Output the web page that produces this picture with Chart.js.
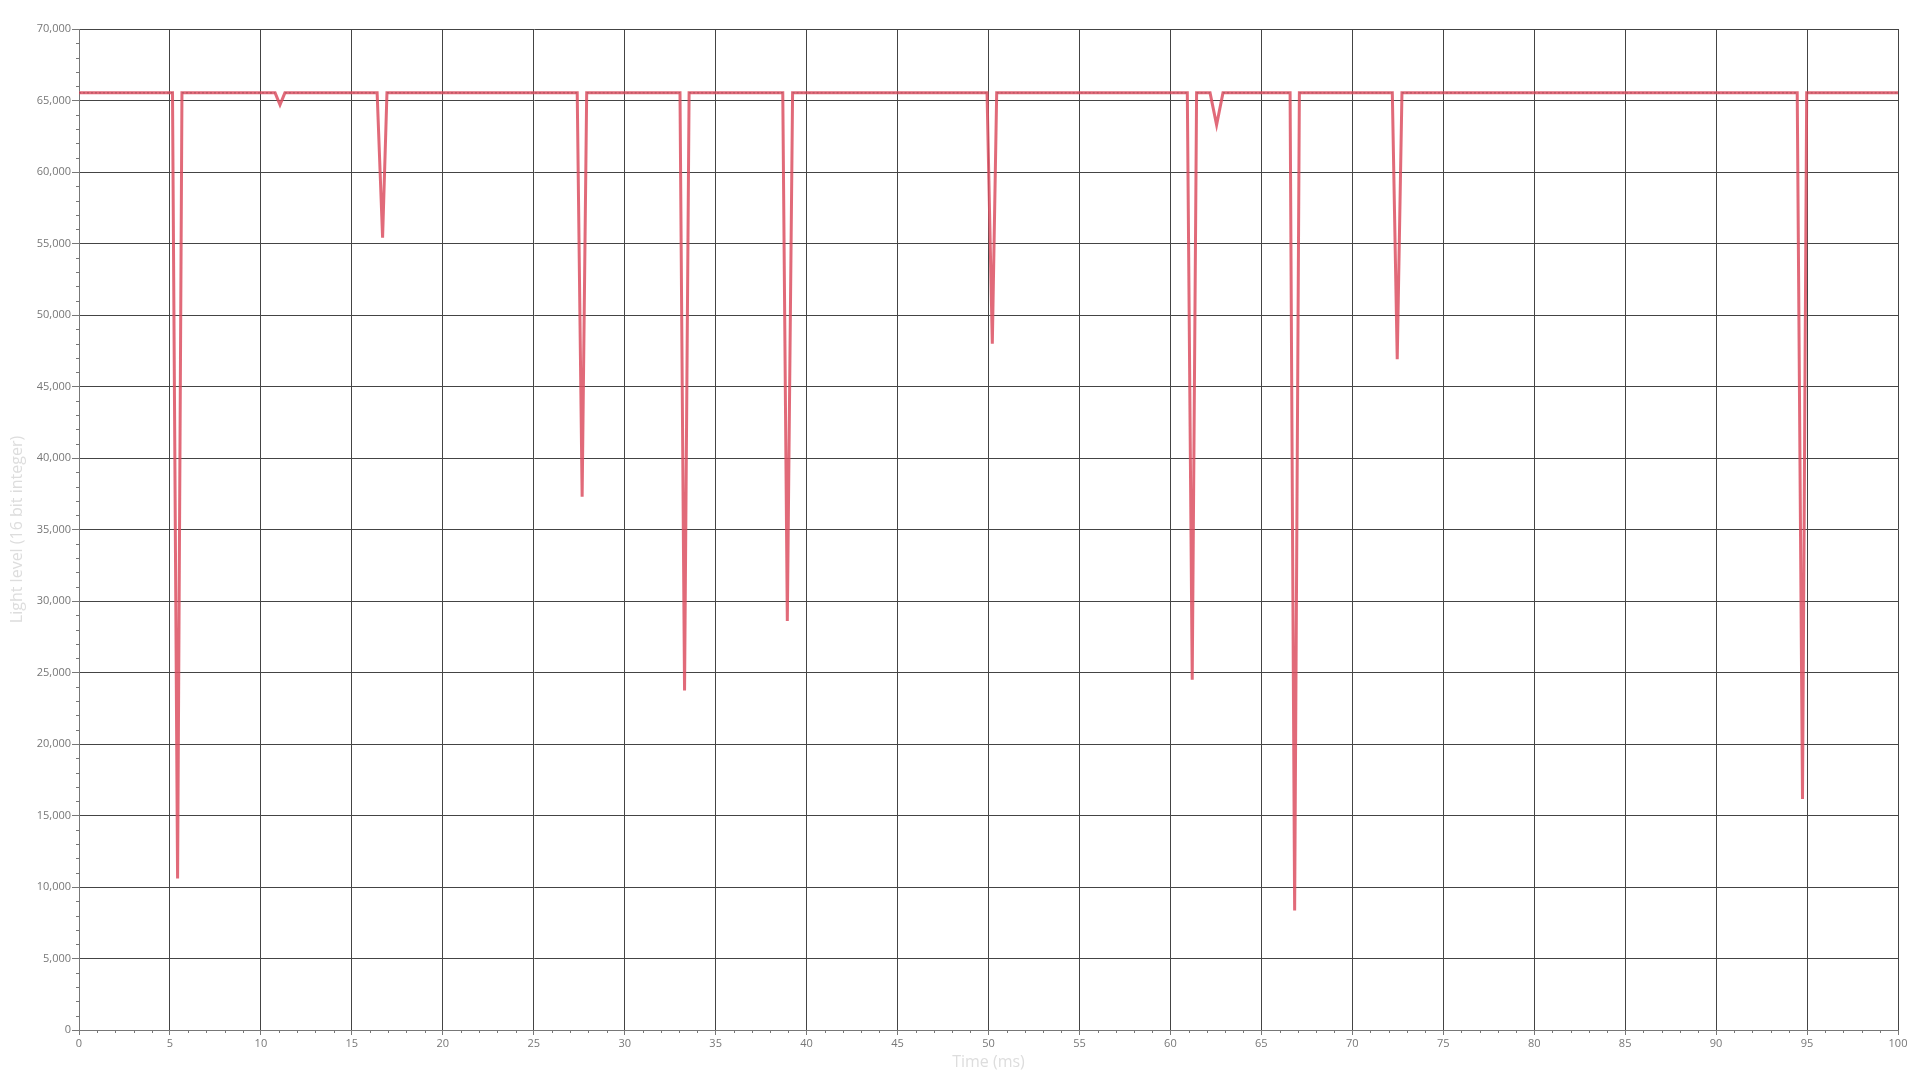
<!DOCTYPE html>
<html>
<head>
<meta charset="utf-8">
<script src="https://cdn.jsdelivr.net/npm/chart.js@4/dist/chart.umd.min.js"></script>
<style>
    body { margin: 0; background: #fff; }
    #chart { display: block; }
</style>
</head>
<body>
<canvas id="chart" width="1920" height="1080"></canvas>
<script>
// time (ms) and light level: flat at 65535 with short dips
const timeMs = [
    0,
    5.14, 5.42, 5.66,
    10.78, 11.05, 11.32,
    16.39, 16.69, 16.93,
    27.39, 27.66, 27.91,
    33.04, 33.29, 33.54,
    38.69, 38.94, 39.23,
    49.92, 50.21, 50.45,
    60.93, 61.2, 61.44,
    62.18, 62.54, 62.89,
    66.58, 66.83, 67.09,
    72.2, 72.47, 72.73,
    94.46, 94.75, 94.98,
    100
];
const lightLevel = [
    65535,
    65535, 10600, 65535,
    65535, 64700, 65535,
    65535, 55400, 65535,
    65535, 37300, 65535,
    65535, 23750, 65535,
    65535, 28600, 65535,
    65535, 48000, 65535,
    65535, 24500, 65535,
    65535, 63300, 65535,
    65535, 8350, 65535,
    65535, 46900, 65535,
    65535, 16150, 65535,
    65535
];

const xMajorTicks = [0, 5, 10, 15, 20, 25, 30, 35, 40, 45, 50, 55, 60, 65, 70, 75, 80, 85, 90, 95, 100];
const yMajorTicks = [0, 5000, 10000, 15000, 20000, 25000, 30000, 35000, 40000, 45000, 50000, 55000, 60000, 65000, 70000];
const xMinorStep = 1;
const yMinorStep = 1000;

const points = timeMs.map((t, i) => ({ x: t, y: lightLevel[i] }));

const tickFont = { family: 'Open Sans', size: 11 };
const titleFont = { family: 'Open Sans', size: 16 };

// small unlabeled ticks between the major ones
const minorTicks = {
    id: 'minorTicks',
    afterDraw(chart) {
        const ctx = chart.ctx;
        const xs = chart.scales.x;
        const ys = chart.scales.y;
        const area = chart.chartArea;
        ctx.save();
        ctx.strokeStyle = '#777';
        ctx.lineWidth = 1;
        ctx.beginPath();
        for (let v = xs.min; v <= xs.max; v += xMinorStep) {
            if (xMajorTicks.includes(v)) continue;
            const px = Math.round(xs.getPixelForValue(v)) + 0.5;
            ctx.moveTo(px, area.bottom);
            ctx.lineTo(px, area.bottom + 3);
        }
        for (let v = ys.min; v <= ys.max; v += yMinorStep) {
            if (yMajorTicks.includes(v)) continue;
            const py = Math.round(ys.getPixelForValue(v)) + 0.5;
            ctx.moveTo(area.left - 3, py);
            ctx.lineTo(area.left, py);
        }
        ctx.stroke();
        ctx.restore();
    }
};

new Chart(document.getElementById('chart'), {
    type: 'line',
    data: {
        datasets: [
            {
                // darker dotted trace seen along the flat parts
                data: points,
                borderColor: 'rgba(130,55,65,0.55)',
                borderWidth: 1,
                borderDash: [2, 2],
                pointRadius: 0,
                order: 0,
                segment: {
                    borderColor: c => c.p0.parsed.y === c.p1.parsed.y ? 'rgba(130,55,65,0.55)' : 'transparent'
                }
            },
            {
                data: points,
                borderColor: 'rgba(220,80,98,0.85)',
                borderWidth: 3,
                pointRadius: 0,
                tension: 0,
                order: 1
            }
        ]
    },
    options: {
        responsive: false,
        animation: false,
        layout: { padding: { top: 29, right: 22, left: 0, bottom: 0 } },
        plugins: {
            legend: { display: false },
            tooltip: { enabled: false }
        },
        scales: {
            x: {
                type: 'linear',
                min: 0,
                max: 100,
                afterBuildTicks: s => { s.ticks = xMajorTicks.map(v => ({ value: v })); },
                afterFit: s => { s.height = 50; },
                ticks: {
                    color: '#777',
                    font: tickFont,
                    padding: 2,
                    maxRotation: 0
                },
                grid: {
                    color: '#444',
                    tickColor: '#777',
                    tickLength: 5
                },
                border: { color: '#777' },
                title: {
                    display: true,
                    text: 'Time (ms)',
                    color: '#ddd',
                    font: titleFont,
                    padding: { top: 0, bottom: 8 }
                }
            },
            y: {
                min: 0,
                max: 70000,
                afterBuildTicks: s => { s.ticks = yMajorTicks.map(v => ({ value: v })); },
                afterFit: s => { s.width = 79; },
                ticks: {
                    color: '#777',
                    font: tickFont,
                    padding: 1,
                    callback: v => v.toLocaleString('en-US')
                },
                grid: {
                    color: '#444',
                    tickColor: '#777',
                    tickLength: 7
                },
                border: { color: '#777' },
                title: {
                    display: true,
                    text: 'Light level (16 bit integer)',
                    color: '#ddd',
                    font: titleFont,
                    padding: { top: 8, bottom: 0 }
                }
            }
        }
    },
    plugins: [minorTicks]
});
</script>
</body>
</html>
